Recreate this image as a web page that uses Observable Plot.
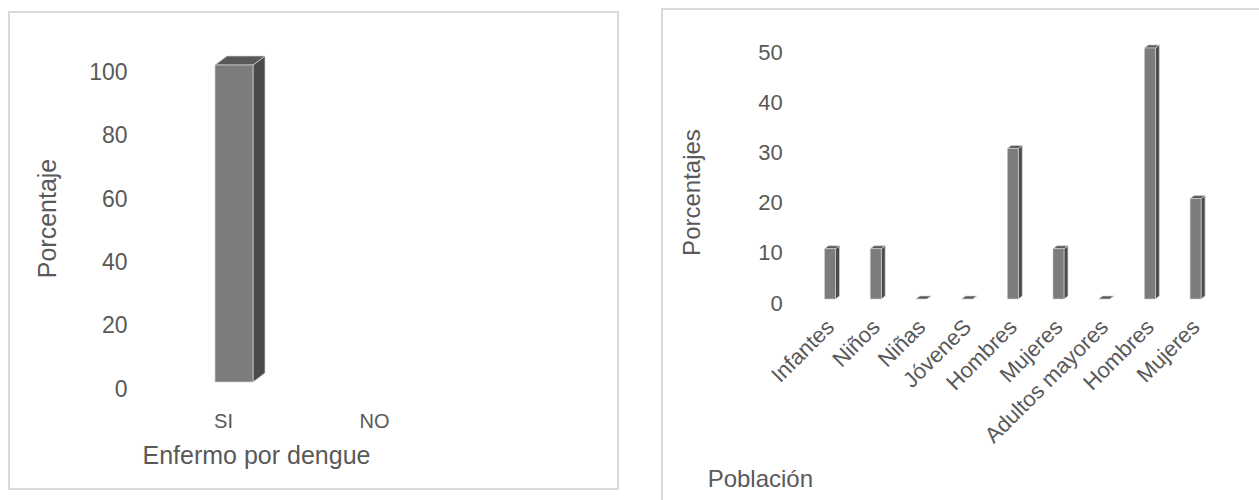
<!DOCTYPE html>
<html>
<head>
<meta charset="utf-8">
<script src="https://cdn.jsdelivr.net/npm/d3@7"></script>
<script src="https://cdn.jsdelivr.net/npm/@observablehq/plot@0.6"></script>
<style>
html, body { margin: 0; padding: 0; background: #fff; overflow: hidden; width: 1259px; height: 500px; }
#wrap { position: relative; width: 1259px; height: 500px; overflow: hidden; font-family: "Liberation Sans", Arial, sans-serif; }
.panel { position: absolute; border: 2px solid #d9d9d9; box-sizing: border-box; }
#left { position: absolute; left: 0; top: 0; }
#right { position: absolute; left: 630px; top: 0; }
</style>
</head>
<body>
<div id="wrap">
  <div class="panel" style="left:8px;top:11px;width:611px;height:479px"></div>
  <div class="panel" style="left:661px;top:8px;width:700px;height:600px"></div>
  <div id="left"></div>
  <div id="right"></div>
</div>
<script>
// ---- data ----
const sickCategories = ["SI", "NO"];
const sickValues = [100, null];
const sickTicks = [0, 20, 40, 60, 80, 100];

const popLabels = ["Infantes", "Niños", "Niñas", "JóveneS", "Hombres", "Mujeres", "Adultos mayores", "Hombres", "Mujeres"];
const popValues = [10, 10, 0, 0, 30, 10, 0, 50, 20];
const popTicks = [0, 10, 20, 30, 40, 50];

// ---- styles ----
const FRONT = "#7b7c7e";
const SIDE = "#4b4b4d";
const TOP = "#58585a";
const EDGE = "#d4d4d4";
const TEXT = "#595959";
const FONT = "'Liberation Sans', Arial, sans-serif";

// 3D side + top faces, positioned through the plot's own scales
function faces3d(data, insetL, insetR, ddx, ddy) {
  return (index, scales) => {
    const g = d3.create("svg:g");
    const bw = typeof scales.x.bandwidth === "function" ? scales.x.bandwidth() : 0;
    for (const d of data) {
      if (d.val == null) continue;
      const x0 = scales.x(d.cat) + insetL;
      const x1 = scales.x(d.cat) + bw - insetR;
      const yT = scales.y(d.val);
      const yB = scales.y(0);
      g.append("polygon")
        .attr("points", [[x1, yT], [x1 + ddx, yT - ddy], [x1 + ddx, yB - ddy], [x1, yB]].map(p => p.join(",")).join(" "))
        .attr("fill", SIDE).attr("stroke", EDGE).attr("stroke-width", 0.7).attr("stroke-linejoin", "round");
      g.append("polygon")
        .attr("points", [[x0, yT], [x0 + ddx, yT - ddy], [x1 + ddx, yT - ddy], [x1, yT]].map(p => p.join(",")).join(" "))
        .attr("fill", TOP).attr("stroke", EDGE).attr("stroke-width", 0.7).attr("stroke-linejoin", "round");
    }
    return g.node();
  };
}

// ---- left chart ----
const leftData = sickCategories.map((c, i) => ({cat: c, val: sickValues[i]}));
const leftBars = leftData.filter(d => d.val != null);
const leftInsetL = 67.5, leftInsetR = 45.5;

const leftPlot = Plot.plot({
  width: 630,
  height: 500,
  marginLeft: 147.5,
  marginRight: 180.5,
  marginTop: 65,
  marginBottom: 118,
  style: {fontFamily: FONT, color: TEXT, background: "transparent", overflow: "visible"},
  x: {type: "band", domain: sickCategories, padding: 0, round: false},
  y: {domain: [0, 100]},
  marks: [
    faces3d(leftBars, leftInsetL, leftInsetR, 12, 9),
    Plot.barY(leftBars, {x: "cat", y: "val", fill: FRONT, stroke: EDGE, strokeWidth: 0.7, insetLeft: leftInsetL, insetRight: leftInsetR}),
    Plot.axisY({ticks: sickTicks, tickSize: 0, tickPadding: 20.5, fontSize: 23, dy: 7, label: null}),
    Plot.axisX({tickSize: 0, tickPadding: 31, fontSize: 20, label: null}),
    Plot.text(["Porcentaje"], {text: d => d, frameAnchor: "left", rotate: -90, textAnchor: "middle", lineAnchor: "bottom", dx: -92.5, dy: -5.5, fontSize: 25, fill: TEXT}),
    Plot.text(["Enfermo por dengue"], {text: d => d, frameAnchor: "bottom", textAnchor: "middle", lineAnchor: "bottom", dx: -42.5, dy: 81, fontSize: 25, fill: TEXT})
  ]
});
document.getElementById("left").appendChild(leftPlot);

// ---- right chart ----
const popData = popLabels.map((c, i) => ({cat: i, val: popValues[i]}));
const rightInset = 17.35;

const rightPlot = Plot.plot({
  width: 629,
  height: 500,
  marginLeft: 177.16,
  marginRight: 40.6,
  marginTop: 48,
  marginBottom: 201,
  style: {fontFamily: FONT, color: TEXT, background: "transparent", overflow: "visible"},
  x: {type: "band", domain: d3.range(popLabels.length), padding: 0, round: false},
  y: {domain: [0, 50]},
  marks: [
    faces3d(popData, rightInset, rightInset, 4, 3),
    Plot.barY(popData, {x: "cat", y: "val", fill: FRONT, stroke: EDGE, strokeWidth: 0.6, insetLeft: rightInset, insetRight: rightInset}),
    Plot.axisY({ticks: popTicks, tickSize: 0, tickPadding: 25, fontSize: 22, dy: 4, label: null}),
    Plot.axisX({tickFormat: i => popLabels[i], tickRotate: -45, tickSize: 0, tickPadding: 24, fontSize: 22, label: null}),
    Plot.text(["Porcentajes"], {text: d => d, frameAnchor: "left", rotate: -90, textAnchor: "middle", lineAnchor: "bottom", dx: -108, dy: 18.5, fontSize: 24, fill: TEXT}),
    Plot.text(["Población"], {text: d => d, frameAnchor: "bottom-left", textAnchor: "start", lineAnchor: "bottom", dx: -100, dy: 187, fontSize: 24, fill: TEXT})
  ]
});
document.getElementById("right").appendChild(rightPlot);
</script>
</body>
</html>
